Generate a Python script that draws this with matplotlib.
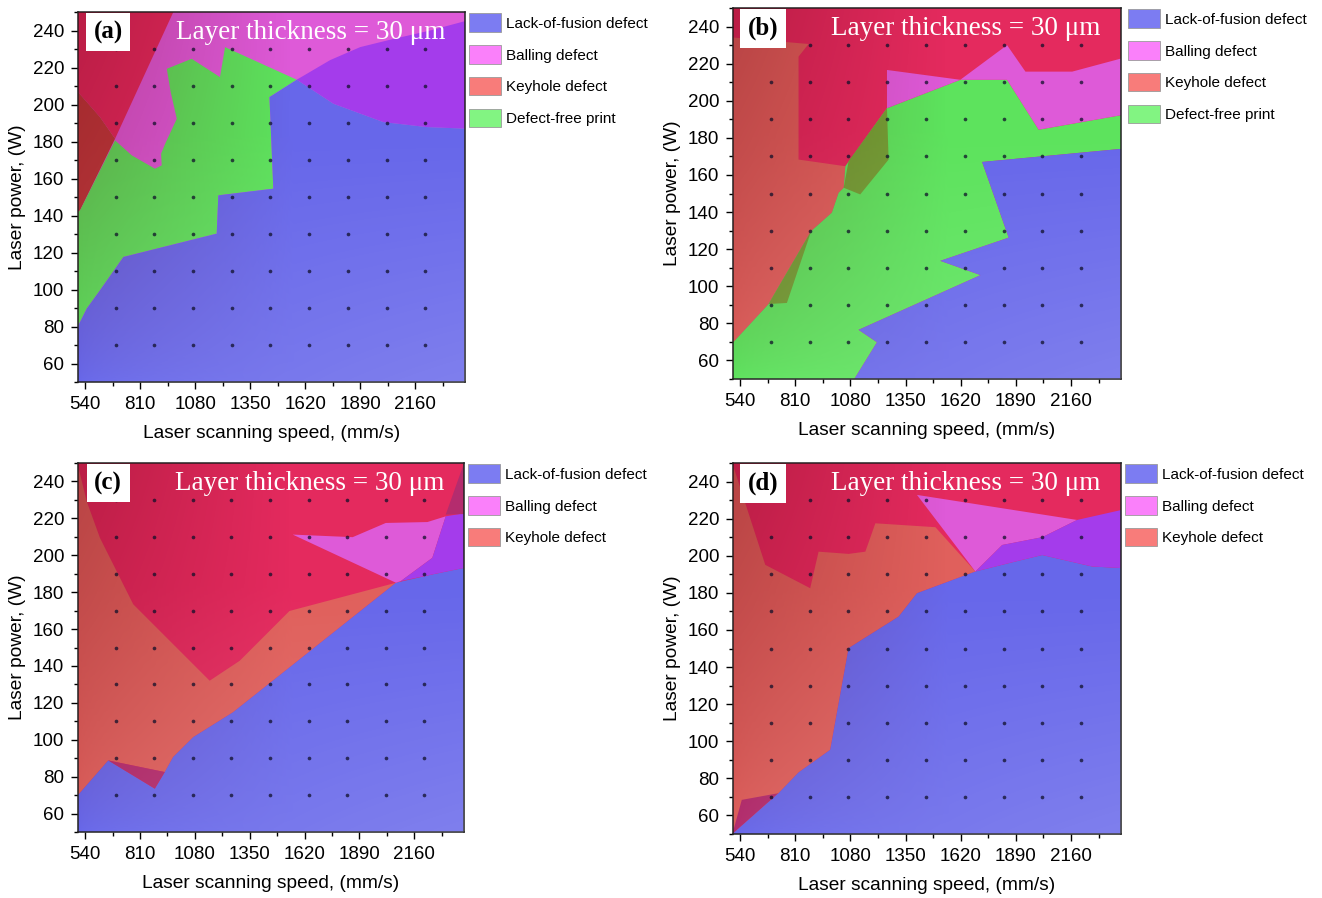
import numpy as np
import matplotlib
matplotlib.use('Agg')
import matplotlib.pyplot as plt
from matplotlib.patches import Patch
from matplotlib.ticker import MultipleLocator

# printed grid of the process map: scanning speed (mm/s) x laser power (W)
speedPoints = [690, 880, 1070, 1260, 1450, 1640, 1830, 2020, 2210]
powerPoints = [70, 90, 110, 130, 150, 170, 190, 210, 230]

# region outlines, (speed, power) pairs
# (a)
keyholeA = [(495, 255), (994, 255), (687, 181.5), (613, 193.2), (495, 208)]
keyholeEdgeA = [(495, 208), (613, 193.2), (687, 181.5), (515, 142.8), (495, 141)]
defectFreeA = [(495, 78), (495, 141), (515, 142.8), (687, 180.6), (769, 172.5),
               (883, 165.3), (916, 167.1), (913, 173.4), (933, 178.8), (990, 192.3),
               (960, 206.7), (941, 219.3), (1063, 224.7), (1202, 214.8), (1227, 231),
               (1579, 213.4), (1445, 204), (1464, 154.5), (1194, 150.9), (1186, 130.2),
               (728, 117.6), (613, 99.6), (548, 89.7), (507, 80.7)]
overlapA = [(1579, 213.4), (1743, 224), (1890, 231), (2037, 235), (2234, 240),
            (2420, 245.5), (2420, 186.9), (2217, 187.8), (2004, 190.5), (1759, 200.4)]
lackA = [(495, 45), (495, 80.7), (507, 80.7), (548, 89.7), (613, 99.6), (728, 117.6),
         (1186, 130.2), (1194, 150.9), (1464, 154.5), (1445, 204), (1579, 213.4),
         (1759, 200.4), (2004, 190.5), (2217, 187.8), (2420, 186.9), (2420, 45)]

# (b)
keyholeB = [(495, 234.2), (875, 230.6), (826, 223.8), (826, 168.3), (1055, 164.7),
            (1047, 153.1), (1022, 150.4), (989, 139.7), (888, 129.8), (679, 90.4),
            (499, 69), (495, 69)]
defectFreeB = [(495, 45), (495, 69), (499, 69), (679, 90.4), (888, 129.8), (989, 139.7),
               (1022, 150.4), (1047, 153.1), (1055, 164.7), (1259, 196), (1618, 211.3),
               (1847, 211.3), (2002, 184.4), (2420, 192.5), (2420, 174), (2400, 174),
               (1725, 167), (1855, 126.2), (1520, 113.7), (1717, 106), (1120, 76.5),
               (1210, 69.8), (1071, 45)]
mixedB1 = [(679, 90.4), (769, 91), (888, 129.8)]
mixedB2 = [(1047, 153.1), (1071, 167.4), (1259, 196), (1267, 168.3), (1128, 149.5)]
ballingB = [(1259, 216.6), (1618, 211.3), (1847, 230), (1937, 215.7), (2166, 215.7),
            (2420, 223.2), (2420, 192.5), (2002, 184.4), (1847, 211.3), (1618, 211.3),
            (1259, 196)]
lackB = [(2420, 174), (2400, 174), (1725, 167), (1855, 126.2), (1520, 113.7),
         (1717, 106), (1120, 76.5), (1210, 69.8), (1071, 45), (2420, 45)]

# (c)
keyholeC = [(495, 255), (504, 249), (548, 229.2), (613, 209.4), (777, 173.4),
            (1153, 132), (1301, 142.8), (1546, 169.8), (2070, 185.1), (1546, 139.2),
            (1268, 114.9), (1072, 101.4), (973, 90.6), (932, 82.5), (654, 88.8),
            (504, 69.9), (495, 69.9)]
lackC = [(495, 45), (495, 69.9), (504, 69.9), (654, 88.8), (883, 73.5), (932, 82.5),
         (973, 90.6), (1072, 101.4), (1268, 114.9), (1546, 139.2), (2070, 185.1),
         (2249, 189.6), (2420, 193.5), (2420, 45)]
mixedC = [(654, 88.8), (932, 82.5), (883, 73.5)]
ballingC = [(1562, 211.2), (1857, 209.8), (2020, 217.5), (2225, 218), (2315, 221.1),
            (2249, 198.6), (2094, 186), (2070, 185.1)]
overlapC = [(2094, 186), (2249, 198.6), (2315, 221.1), (2420, 223), (2420, 193.5),
            (2249, 189.6)]
cornerC = [(2315, 222), (2402, 249), (2420, 255), (2420, 222.4)]

# (d)
keyholeD = [(495, 45), (502, 50), (728, 72), (826, 83.2), (981, 95.4), (1071, 150.2),
            (1316, 167.2), (1406, 179.8), (1692, 191.5), (1496, 215.4), (1202, 217.5),
            (1153, 202.2), (1071, 201), (924, 202.2), (883, 182.5), (663, 195.1),
            (502, 249.8), (495, 255)]
mixedD = [(502, 50), (548, 68.4), (728, 72)]
lackD = [(495, 45), (502, 50), (728, 72), (826, 83.2), (981, 95.4), (1071, 150.2),
         (1316, 167.2), (1406, 179.8), (1692, 191.5), (1855, 196), (2019, 200.4),
         (2264, 194.2), (2420, 193.3), (2420, 45)]
ballingD = [(1406, 232.8), (2190, 219.3), (2019, 210), (1823, 205.8), (1692, 191.5)]
overlapD = [(1692, 191.5), (1823, 205.8), (2019, 210), (2190, 219.3), (2420, 225),
            (2420, 193.3), (2264, 194.2), (2019, 200.4), (1855, 196)]

legendLabels = ['Lack-of-fusion defect', 'Balling defect', 'Keyhole defect', 'Defect-free print']
legendColors = ['#7C7CF2', '#FA80FA', '#F87C7A', '#82F482']

COLORS = {'crimson': '#E42A5E', 'pink': '#DE5AD8', 'purple': '#A43CEB',
          'blue': '#6767EA', 'green': '#5DE35D', 'darkred': '#C03A3C',
          'salmon': '#E0605C', 'olive': '#72A035', 'plum': '#B42C6E'}

XLIM = (505, 2405)
YLIM = (50, 250)
W, H = 1322, 898


def shade(ax):
    # soft lighting: darker (maroon) towards top-left, lighter towards bottom-right
    xf, yf = np.meshgrid(np.linspace(0, 1, 200), np.linspace(1, 0, 200))
    img = np.zeros((200, 200, 4))
    dark = 0.30 * np.clip(1 - xf * 1.8, 0, 1) * yf ** 0.7
    light = 0.16 * np.clip(1 - yf * 1.5, 0, 1) * xf ** 0.5
    alpha = dark + light
    w = light / np.maximum(alpha, 1e-6)
    img[..., 0] = w + (1 - w) * 0.35
    img[..., 1] = w
    img[..., 2] = w + (1 - w) * 0.05
    img[..., 3] = alpha
    ax.imshow(img, extent=(*XLIM, *YLIM), aspect='auto', zorder=3, interpolation='bilinear')


def drawPanel(box, tag, background, regions, nLegend, legendX):
    l, t, r, b = box
    ax = fig.add_axes([l / W, 1 - b / H, (r - l) / W, (b - t) / H])
    ax.set_facecolor(COLORS[background])
    for poly, key in regions:
        xs, ys = zip(*poly)
        ax.fill(xs, ys, color=COLORS[key], lw=0, zorder=2)
    shade(ax)
    gx, gy = np.meshgrid(speedPoints, powerPoints)
    ax.scatter(gx.ravel(), gy.ravel(), s=7, color='#10102a', alpha=0.75, lw=0, zorder=4)

    ax.set_xlim(*XLIM)
    ax.set_ylim(*YLIM)
    ax.xaxis.set_major_locator(MultipleLocator(270))
    ax.xaxis.set_minor_locator(MultipleLocator(135))
    ax.yaxis.set_major_locator(MultipleLocator(20))
    ax.yaxis.set_minor_locator(MultipleLocator(10))
    ax.tick_params(which='major', direction='out', length=5, width=1, labelsize=13.5, pad=5)
    ax.tick_params(which='minor', direction='out', length=3, width=1)
    for s in ax.spines.values():
        s.set_linewidth(1.1)
        s.set_color('#222222')
    ax.set_xlabel('Laser scanning speed, (mm/s)', fontsize=13.8, labelpad=9)
    ax.set_ylabel('Laser power, (W)', fontsize=13.8, labelpad=5)

    ax.text(0.078, 0.945, tag, transform=ax.transAxes, ha='center', va='center',
            fontsize=18, fontweight='bold', family='Liberation Serif', zorder=6,
            bbox=dict(facecolor='white', edgecolor='none', boxstyle='square,pad=0.3'))
    ax.text(0.6, 0.945, 'Layer thickness = 30 \u03bcm', transform=ax.transAxes,
            ha='center', va='center', fontsize=19.5, color='white',
            family='Liberation Serif', zorder=6)

    handles = [Patch(facecolor=c, edgecolor='#9a9a9a', lw=0.6, label=lab)
               for c, lab in zip(legendColors[:nLegend], legendLabels[:nLegend])]
    ax.legend(handles=handles, loc='upper left', bbox_to_anchor=(legendX, 0.996),
              frameon=False, fontsize=11, borderpad=0, borderaxespad=0,
              handlelength=2.1, handleheight=1.45, handletextpad=0.3, labelspacing=0.9)
    return ax


plt.rcParams['font.family'] = ['Liberation Sans', 'DejaVu Sans']
fig = plt.figure(figsize=(W / 100, H / 100), dpi=100)

drawPanel((78, 12, 465, 382), '(a)', 'pink',
          [(keyholeA, 'crimson'), (keyholeEdgeA, 'darkred'), (defectFreeA, 'green'),
           (overlapA, 'purple'), (lackA, 'blue')], 4, 1.01)
drawPanel((733, 8, 1121, 379), '(b)', 'crimson',
          [(keyholeB, 'salmon'), (defectFreeB, 'green'), (mixedB1, 'olive'),
           (mixedB2, 'olive'), (ballingB, 'pink'), (lackB, 'blue')], 4, 1.018)
drawPanel((78, 463, 464, 832), '(c)', 'crimson',
          [(keyholeC, 'salmon'), (lackC, 'blue'), (mixedC, 'plum'), (ballingC, 'pink'),
           (overlapC, 'purple'), (cornerC, 'plum')], 3, 1.01)
drawPanel((733, 463, 1121, 834), '(d)', 'crimson',
          [(keyholeD, 'salmon'), (mixedD, 'plum'), (lackD, 'blue'), (ballingD, 'pink'),
           (overlapD, 'purple')], 3, 1.01)

plt.savefig('out.png', dpi=100)
